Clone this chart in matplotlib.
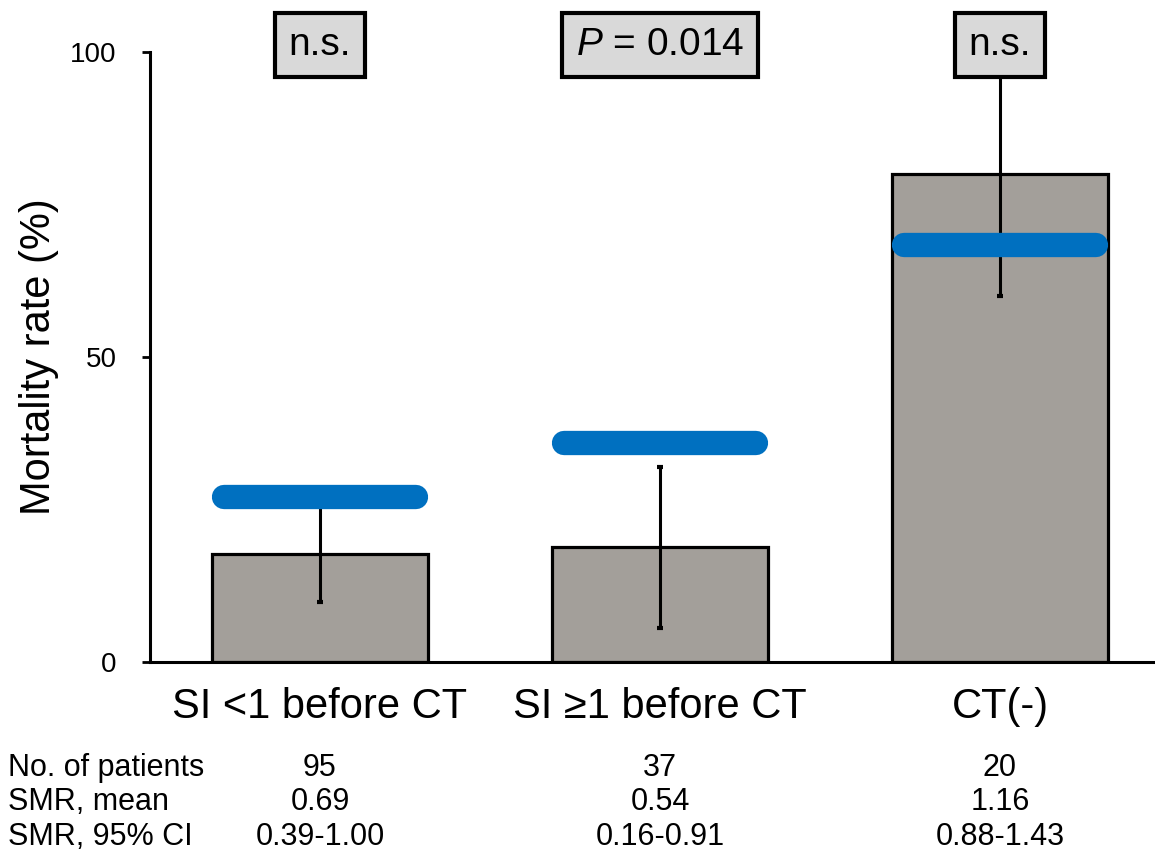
import matplotlib.pyplot as plt
from matplotlib import rcParams

rcParams['font.family'] = ['Liberation Sans', 'DejaVu Sans']
rcParams['mathtext.fontset'] = 'custom'
rcParams['mathtext.it'] = 'Liberation Sans:italic'
rcParams['mathtext.rm'] = 'Liberation Sans'

groups = ['SI <1 before CT', 'SI \u22651 before CT', 'CT(-)']
mortality = [17.7, 18.8, 80.0]
ci_low = [9.9, 5.6, 60.0]
ci_high = [27.0, 32.0, 100.0]
expected = [27.1, 35.9, 68.4]          # blue bars: expected mortality
p_labels = ['n.s.', r'$\mathit{P}$ = 0.014', 'n.s.']

row_names = ['No. of patients', 'SMR, mean', 'SMR, 95% CI']
n_patients = ['95', '37', '20']
smr_mean = ['0.69', '0.54', '1.16']
smr_ci = ['0.39-1.00', '0.16-0.91', '0.88-1.43']

fig = plt.figure(figsize=(11.55, 8.59), dpi=100)
ax = fig.add_axes([150 / 1155, 1 - 662 / 859, 1 - 150 / 1155, 610 / 859])

x = list(range(len(groups)))
width = 0.635
ax.bar(x, mortality, width=width, color='#a39f9a', edgecolor='black', linewidth=2.3, zorder=2)

yerr = [[m - lo for m, lo in zip(mortality, ci_low)],
        [hi - m for m, hi in zip(mortality, ci_high)]]
ax.errorbar(x, mortality, yerr=yerr, fmt='none', ecolor='black', elinewidth=2.2,
            capsize=2.5, capthick=3, zorder=3, clip_on=False)

for xi, e in zip(x, expected):
    ax.plot([xi - width / 2 + 0.035, xi + width / 2 - 0.035], [e, e], color='#0070c0',
            linewidth=17.5, solid_capstyle='round', zorder=4)

for xi, lab in zip(x, p_labels):
    ax.text(xi, 101.2, lab, ha='center', va='center', fontsize=28, zorder=6, clip_on=False,
            bbox=dict(boxstyle='square,pad=0.36', facecolor='#d9d9d9', edgecolor='black', linewidth=3))

ax.set_xlim(-0.5, 2.456)
ax.set_ylim(0, 100)
ax.set_yticks([0, 50, 100])
ax.tick_params(axis='y', labelsize=20, length=6, width=2, direction='out', pad=18)
ax.set_xticks(x)
ax.set_xticklabels(groups, fontsize=30)
ax.tick_params(axis='x', length=0, pad=18)
ax.set_ylabel('Mortality rate (%)', fontsize=30, labelpad=8)

ax.spines['top'].set_visible(False)
ax.spines['right'].set_visible(False)
ax.spines['left'].set_linewidth(2.2)
ax.spines['bottom'].set_linewidth(2.2)

# table under the chart
row_y = [768, 802, 837]
for ry, name, vals in zip(row_y, row_names, [n_patients, smr_mean, smr_ci]):
    fig.text(8 / 1155, 1 - ry / 859, name, fontsize=22, ha='left', va='center')
    for xi, v in zip(x, vals):
        xf = ax.transData.transform((xi, 0))[0] / fig.bbox.width
        fig.text(xf, 1 - ry / 859, v, fontsize=22, ha='center', va='center')

plt.savefig('out.png', dpi=100)
